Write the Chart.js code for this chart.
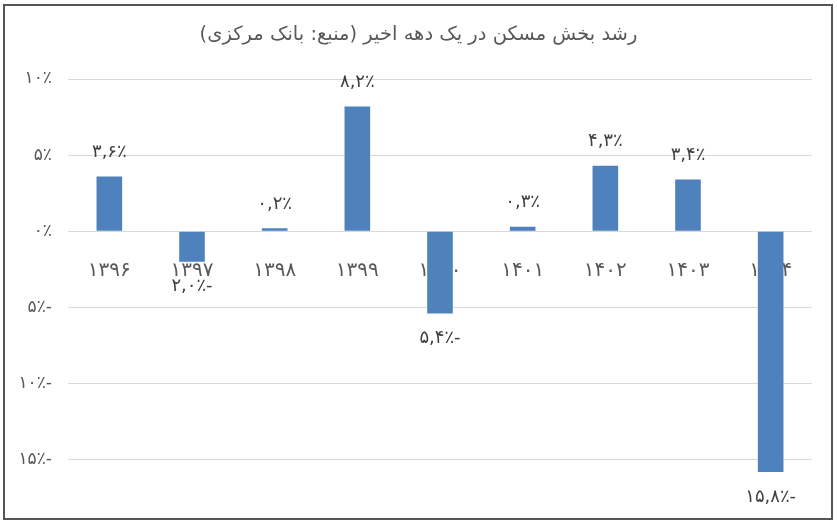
<!DOCTYPE html>
<html>
<head>
<meta charset="utf-8">
<script src="https://cdn.jsdelivr.net/npm/chart.js@4"></script>
<style>
  body { margin: 0; background: #fff; }
  #wrap { position: relative; width: 837px; height: 522px; }
  #frame {
    position: absolute; left: 3px; top: 4px; width: 826px; height: 512px;
    border: 2px solid #555; pointer-events: none;
  }
</style>
</head>
<body>
<div id="wrap">
  <canvas id="chart" width="837" height="522"></canvas>
  <div id="frame"></div>
</div>
<script>
// داده‌ها
const years = ['۱۳۹۶', '۱۳۹۷', '۱۳۹۸', '۱۳۹۹', '۱۴۰۰', '۱۴۰۱', '۱۴۰۲', '۱۴۰۳', '۱۴۰۴'];
const growth = [3.6, -2.0, 0.2, 8.2, -5.4, 0.3, 4.3, 3.4, -15.8];
const yTicks = [10, 5, 0, -5, -10, -15];

const titleText = 'رشد بخش مسکن در یک دهه اخیر (منبع: بانک مرکزی)';
const fa = '۰۱۲۳۴۵۶۷۸۹';

function toFa(str) {
    return String(str).replace(/[0-9]/g, d => fa[d]);
}

function pct(v, decimals) {
    const s = toFa(Math.abs(v).toFixed(decimals)).replace('.', ',');
    return s + '٪' + (v < 0 ? '-' : '');
}

// عنوان وسط تصویر
const centerTitle = {
    id: 'centerTitle',
    afterDraw(chart) {
        const ctx = chart.ctx;
        ctx.save();
        ctx.font = '19.5px "DejaVu Sans"';
        ctx.fillStyle = '#595959';
        ctx.textAlign = 'center';
        ctx.textBaseline = 'middle';
        ctx.fillText('\u200F' + titleText + '\u200F', chart.width / 2, 35);
        ctx.restore();
    }
};

// برچسب مقادیر روی ستون‌ها
const valueLabels = {
    id: 'valueLabels',
    afterDatasetsDraw(chart) {
        const ctx = chart.ctx;
        const meta = chart.getDatasetMeta(0);
        ctx.save();
        ctx.font = '18px "DejaVu Sans"';
        ctx.fillStyle = '#404040';
        ctx.textAlign = 'center';
        ctx.textBaseline = 'middle';
        meta.data.forEach((bar, i) => {
            const v = growth[i];
            const y = v >= 0 ? bar.y - 24 : bar.y + 25;
            ctx.fillText(pct(v, 1), bar.x, y);
        });
        ctx.restore();
    }
};

const chart = new Chart(document.getElementById('chart').getContext('2d'), {
    type: 'bar',
    data: {
        labels: years,
        datasets: [{
            data: growth,
            backgroundColor: '#4F81BD',
            barPercentage: 0.31,
            categoryPercentage: 1
        }]
    },
    options: {
        responsive: false,
        animation: false,
        layout: { padding: { left: 0, right: 25, top: 79, bottom: 47 } },
        plugins: {
            legend: { display: false },
            tooltip: { enabled: false },
            title: { display: false }
        },
        scales: {
            x: {
                position: { y: 0 },
                grid: { display: false },
                border: { display: false },
                ticks: {
                    color: '#595959',
                    font: { family: 'DejaVu Sans', size: 20 },
                    padding: 19,
                    maxRotation: 0
                }
            },
            y: {
                min: -16,
                max: 10,
                afterBuildTicks(scale) {
                    scale.ticks = yTicks.map(v => ({ value: v }));
                },
                afterFit(scale) {
                    scale.width = 68;
                },
                grid: { color: '#d9d9d9', lineWidth: 1, drawTicks: false },
                border: { display: false },
                ticks: {
                    color: '#595959',
                    font: { family: 'DejaVu Sans', size: 17 },
                    padding: 16,
                    callback: v => pct(v, 0)
                }
            }
        }
    },
    plugins: [valueLabels, centerTitle]
});
</script>
</body>
</html>
